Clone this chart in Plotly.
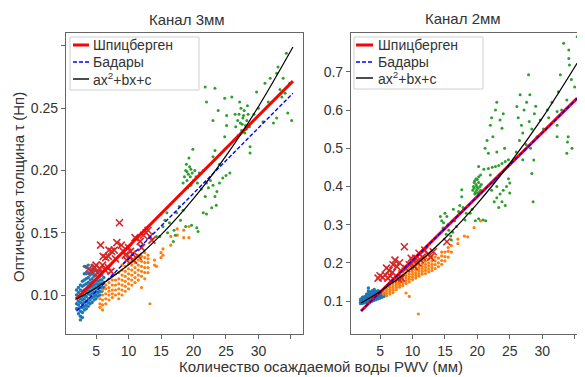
import plotly.graph_objects as go

# The page body has an 8px margin, so the figure is sized to fit the window.
OFF = 8
W, H = 585 - OFF, 377 - OFF

# ================= LEFT PANEL: Канал 3мм =================
L_blue_cols = [
    (2.0, [0.089, 0.093, 0.097, 0.100, 0.104]),
    (2.3, [0.085, 0.089, 0.092, 0.095, 0.098, 0.102, 0.106]),
    (2.6, [0.080, 0.083, 0.087, 0.090, 0.094, 0.097, 0.100, 0.104, 0.108]),
    (2.9, [0.082, 0.086, 0.090, 0.093, 0.096, 0.099, 0.103, 0.107, 0.111]),
    (3.2, [0.088, 0.091, 0.094, 0.097, 0.100, 0.104, 0.108, 0.112, 0.117, 0.123]),
    (3.5, [0.089, 0.092, 0.095, 0.099, 0.102, 0.105, 0.109, 0.113, 0.117, 0.122]),
    (3.8, [0.091, 0.094, 0.097, 0.101, 0.104, 0.107, 0.110, 0.114, 0.118, 0.124]),
    (4.1, [0.093, 0.096, 0.100, 0.103, 0.106, 0.109, 0.112, 0.116, 0.120]),
    (4.4, [0.094, 0.098, 0.101, 0.104, 0.107, 0.110, 0.113, 0.117, 0.121, 0.124]),
    (4.7, [0.096, 0.099, 0.102, 0.105, 0.108, 0.111, 0.115, 0.119]),
    (5.0, [0.097, 0.100, 0.103, 0.106, 0.109, 0.112, 0.116, 0.120]),
    (5.3, [0.099, 0.102, 0.105, 0.108, 0.111, 0.114, 0.118]),
    (5.6, [0.100, 0.103, 0.106, 0.109, 0.112, 0.115, 0.119]),
    (5.9, [0.103, 0.106, 0.109, 0.112, 0.116]),
    (6.2, [0.106, 0.110, 0.114]),
]
L_orange_cols = [
    (5.6, [0.090, 0.093, 0.097]),
    (6.0, [0.088, 0.092, 0.096, 0.100, 0.104]),
    (6.5, [0.093, 0.097, 0.101, 0.105, 0.108]),
    (7.0, [0.096, 0.100, 0.103, 0.106, 0.110, 0.113]),
    (7.5, [0.098, 0.101, 0.104, 0.108, 0.112, 0.116]),
    (8.0, [0.100, 0.104, 0.108, 0.112, 0.117]),
    (8.5, [0.097, 0.101, 0.105, 0.109, 0.113, 0.118]),
    (9.0, [0.100, 0.104, 0.108, 0.112, 0.116, 0.120, 0.124]),
    (9.5, [0.103, 0.107, 0.111, 0.115, 0.119, 0.123]),
    (10.0, [0.105, 0.109, 0.113, 0.117, 0.121, 0.125, 0.128]),
    (10.5, [0.108, 0.112, 0.116, 0.120, 0.124, 0.127]),
    (11.0, [0.110, 0.114, 0.118, 0.122, 0.126, 0.130]),
    (11.5, [0.112, 0.116, 0.120, 0.124, 0.128, 0.132]),
    (12.0, [0.106, 0.115, 0.119, 0.123, 0.127, 0.131]),
    (12.5, [0.113, 0.118, 0.122, 0.126, 0.130, 0.134]),
    (13.0, [0.118, 0.122, 0.126, 0.129, 0.132]),
    (13.3, [0.093]),
    (14.0, [0.124, 0.128]),
    (14.3, [0.123]),
    (15.0, [0.130, 0.134]),
    (15.3, [0.132, 0.137]),
    (16.5, [0.140, 0.147]),
    (17.5, [0.148, 0.153]),
    (18.5, [0.146, 0.152]),
    (19.3, [0.146, 0.155]),
]
L_green = [
    (14.3, 0.147), (14.8, 0.147), (15.3, 0.155), (15.6, 0.160), (15.9, 0.166), (16.3, 0.158),
    (16.9, 0.143), (17.0, 0.152), (17.4, 0.166), (17.8, 0.171), (18.0, 0.160), (18.4, 0.168),
    (18.8, 0.155), (19.7, 0.156), (20.5, 0.154), (20.7, 0.151), (21.5, 0.166), (16.0, 0.150),
    (15.0, 0.165), (17.2, 0.148),
    (18.4, 0.190), (18.6, 0.195), (18.8, 0.200), (19.0, 0.192), (19.2, 0.197), (19.4, 0.203),
    (19.5, 0.195), (19.7, 0.190), (19.8, 0.198), (20.0, 0.192), (20.2, 0.200), (20.4, 0.195),
    (20.6, 0.190), (20.9, 0.198), (19.1, 0.186), (19.6, 0.188), (18.9, 0.205), (19.9, 0.217),
    (19.3, 0.210), (19.0, 0.199), (19.6, 0.201),
    (21.2, 0.185), (21.8, 0.179), (22.0, 0.190), (22.3, 0.186), (22.6, 0.192), (23.0, 0.188),
    (23.3, 0.179), (23.6, 0.183), (24.0, 0.190), (24.5, 0.194), (25.0, 0.196), (25.6, 0.198),
    (22.8, 0.170), (23.5, 0.172), (22.0, 0.165), (21.5, 0.200), (23.0, 0.211), (23.3, 0.216),
    (24.0, 0.205),
    (21.8, 0.267), (23.3, 0.266), (22.0, 0.255), (24.8, 0.258), (25.9, 0.259), (23.8, 0.248),
    (25.1, 0.244), (25.1, 0.236), (24.8, 0.227), (23.0, 0.240),
    (26.5, 0.235), (26.8, 0.240), (27.0, 0.245), (27.2, 0.238), (27.4, 0.232), (27.6, 0.242),
    (27.8, 0.248), (28.0, 0.236), (28.2, 0.240), (28.4, 0.245), (28.6, 0.235), (27.3, 0.250),
    (26.9, 0.228), (27.9, 0.230), (28.3, 0.252), (27.5, 0.237), (28.7, 0.219), (28.7, 0.214),
    (26.4, 0.245), (27.1, 0.255), (27.7, 0.244), (28.1, 0.233),
    (29.7, 0.263), (31.0, 0.270), (31.8, 0.274), (33.0, 0.283), (32.8, 0.278), (33.8, 0.274),
    (34.1, 0.262), (33.6, 0.259), (34.5, 0.246), (35.1, 0.240), (32.8, 0.242), (32.3, 0.238),
    (30.7, 0.239), (30.0, 0.250), (31.5, 0.255), (33.3, 0.265), (34.8, 0.270), (29.3, 0.245),
    (34.3, 0.294),
]
L_red = [
    (3.9, 0.121), (4.3, 0.119), (4.8, 0.122), (5.2, 0.118), (5.6, 0.121), (6.0, 0.124),
    (6.4, 0.120), (6.9, 0.122), (7.3, 0.119), (5.0, 0.124), (5.7, 0.140), (6.1, 0.131),
    (6.5, 0.130), (6.9, 0.131), (7.0, 0.136), (7.4, 0.135), (7.8, 0.136), (8.6, 0.158),
    (8.2, 0.142), (8.9, 0.140), (9.2, 0.135), (10.0, 0.138), (10.3, 0.135), (10.6, 0.133),
    (10.2, 0.130), (9.7, 0.128), (11.0, 0.146), (11.8, 0.143), (12.3, 0.148), (12.7, 0.150),
    (13.0, 0.152), (13.3, 0.147), (13.6, 0.144), (11.5, 0.131), (12.0, 0.138), (8.0, 0.129),
    (9.5, 0.132), (10.8, 0.128),
]
L_spits_x = [2.0, 35.3]
L_spits_y = [0.0970, 0.2717]
L_badary_x = [2.0, 35.3]
L_badary_y = [0.0870, 0.2620]
L_quad_x = [2.0, 5.0, 10.0, 15.0, 20.0, 25.0, 30.0, 35.3]
L_quad_y = [0.0970, 0.1057, 0.1243, 0.1482, 0.1773, 0.2117, 0.2513, 0.2990]

# ================= RIGHT PANEL: Канал 2мм =================
R_blue_cols = [
    (2.0, [0.093, 0.097, 0.101, 0.105]),
    (2.3, [0.094, 0.098, 0.102, 0.106, 0.110]),
    (2.6, [0.095, 0.099, 0.103, 0.107, 0.111]),
    (2.9, [0.096, 0.100, 0.104, 0.108, 0.112, 0.118]),
    (3.2, [0.097, 0.101, 0.105, 0.109, 0.113, 0.120, 0.126, 0.134]),
    (3.5, [0.098, 0.102, 0.106, 0.110, 0.114, 0.119, 0.124]),
    (3.8, [0.100, 0.104, 0.108, 0.112, 0.116, 0.121, 0.127]),
    (4.1, [0.102, 0.106, 0.110, 0.114, 0.118, 0.123, 0.130]),
    (4.4, [0.104, 0.108, 0.112, 0.116, 0.120, 0.125]),
    (4.7, [0.106, 0.110, 0.114, 0.118, 0.122, 0.127]),
    (5.0, [0.108, 0.112, 0.116, 0.120, 0.124]),
    (5.3, [0.110, 0.114, 0.118, 0.122]),
    (5.6, [0.112, 0.116, 0.120]),
]
R_orange_cols = [
    (5.5, [0.118, 0.124, 0.130]),
    (6.0, [0.114, 0.120, 0.126, 0.132, 0.138]),
    (6.5, [0.118, 0.124, 0.130, 0.136, 0.142, 0.148]),
    (7.0, [0.122, 0.128, 0.134, 0.140, 0.146, 0.152]),
    (7.5, [0.130, 0.136, 0.142, 0.148, 0.156, 0.164]),
    (8.0, [0.136, 0.142, 0.148, 0.155, 0.162, 0.170, 0.178]),
    (8.5, [0.140, 0.147, 0.154, 0.161, 0.168, 0.176, 0.186]),
    (9.0, [0.121, 0.146, 0.153, 0.160, 0.167, 0.174, 0.182, 0.192]),
    (9.5, [0.112, 0.150, 0.157, 0.164, 0.171, 0.178, 0.186, 0.196]),
    (10.0, [0.156, 0.163, 0.170, 0.177, 0.184, 0.192, 0.200]),
    (10.5, [0.160, 0.167, 0.174, 0.181, 0.188, 0.196, 0.205]),
    (10.9, [0.066]),
    (11.0, [0.165, 0.172, 0.179, 0.186, 0.193, 0.200, 0.209]),
    (11.5, [0.170, 0.177, 0.184, 0.191, 0.198, 0.206, 0.214]),
    (12.0, [0.172, 0.180, 0.188, 0.196, 0.204, 0.212]),
    (12.5, [0.176, 0.184, 0.192, 0.200, 0.210, 0.220]),
    (13.0, [0.180, 0.188, 0.196, 0.205, 0.215]),
    (13.5, [0.185, 0.195, 0.205, 0.215]),
    (14.0, [0.190, 0.200, 0.212]),
    (14.5, [0.196, 0.206, 0.218, 0.228]),
    (15.0, [0.205, 0.216, 0.228]),
    (15.5, [0.215, 0.230, 0.240]),
    (16.0, [0.228, 0.245]),
    (17.0, [0.250, 0.262]),
    (18.0, [0.270]),
    (18.5, [0.268]),
    (19.5, [0.292]),
    (20.5, [0.310]),
]
R_green = [
    (14.3, 0.321), (14.7, 0.291), (14.8, 0.305), (15.0, 0.330), (15.3, 0.321), (15.5, 0.300),
    (15.6, 0.285), (15.9, 0.270), (16.0, 0.260), (16.2, 0.280), (16.5, 0.310), (16.8, 0.295),
    (17.1, 0.334), (17.3, 0.350), (17.6, 0.373), (17.6, 0.391), (18.1, 0.312), (18.3, 0.330),
    (18.9, 0.330), (19.2, 0.340), (19.7, 0.310), (20.2, 0.315), (20.9, 0.312), (21.3, 0.310),
    (15.2, 0.275), (14.5, 0.310), (16.3, 0.340), (17.8, 0.345),
    (19.3, 0.390), (19.4, 0.400), (19.5, 0.410), (19.6, 0.415), (19.8, 0.420), (20.0, 0.418),
    (20.2, 0.410), (20.4, 0.400), (20.5, 0.390), (20.3, 0.385), (20.0, 0.382), (19.7, 0.385),
    (19.5, 0.395), (19.9, 0.400), (20.1, 0.395), (19.8, 0.405), (20.2, 0.425), (19.6, 0.380),
    (20.6, 0.405), (19.9, 0.390),
    (20.5, 0.430), (20.2, 0.452), (21.0, 0.445), (21.7, 0.447), (22.3, 0.450), (22.8, 0.452),
    (23.3, 0.455), (23.8, 0.460), (24.3, 0.465), (24.8, 0.470), (21.7, 0.487),
    (22.0, 0.430), (22.5, 0.410), (23.0, 0.400), (23.5, 0.380), (23.0, 0.370), (23.8, 0.360),
    (24.0, 0.390), (24.5, 0.400), (25.0, 0.409), (25.0, 0.383), (24.3, 0.350), (23.3, 0.345),
    (22.6, 0.360), (24.8, 0.420), (22.2, 0.390),
    (21.5, 0.520), (22.4, 0.530), (23.5, 0.574), (23.8, 0.552), (22.0, 0.560), (22.8, 0.600),
    (24.2, 0.500), (21.2, 0.500), (23.0, 0.490), (23.0, 0.620), (22.2, 0.580), (24.0, 0.590),
    (26.1, 0.609), (26.3, 0.580), (26.8, 0.560), (27.0, 0.540), (27.2, 0.600), (27.6, 0.620),
    (27.9, 0.692), (28.0, 0.570), (28.4, 0.550), (28.8, 0.590), (29.2, 0.530), (26.5, 0.520),
    (27.5, 0.510), (28.2, 0.500), (28.7, 0.469), (28.4, 0.434), (28.6, 0.360), (26.0, 0.490),
    (27.0, 0.470), (29.0, 0.610), (26.6, 0.640), (28.1, 0.640),
    (30.2, 0.550), (30.8, 0.600), (31.5, 0.620), (32.3, 0.596), (32.3, 0.530), (32.3, 0.560),
    (32.5, 0.648), (32.8, 0.692), (33.3, 0.775), (33.8, 0.626), (33.8, 0.487), (33.9, 0.516),
    (34.0, 0.530), (34.1, 0.757), (34.1, 0.735), (34.2, 0.718), (34.5, 0.680), (35.0, 0.660),
    (35.4, 0.792), (31.0, 0.580), (33.0, 0.600), (34.6, 0.500), (29.7, 0.574), (30.5, 0.548),
]
R_red = [
    (4.7, 0.160), (5.0, 0.166), (5.4, 0.162), (5.8, 0.168), (6.2, 0.160), (6.6, 0.165),
    (6.0, 0.186), (6.4, 0.180), (6.9, 0.175), (7.3, 0.207), (7.0, 0.195), (7.6, 0.190),
    (8.0, 0.200), (8.75, 0.242), (8.3, 0.160), (7.8, 0.158), (9.0, 0.185), (9.5, 0.195),
    (10.1, 0.205), (10.5, 0.212), (10.8, 0.200), (11.2, 0.208), (11.5, 0.215), (11.9, 0.233),
    (12.4, 0.222), (13.2, 0.229), (12.8, 0.215), (15.3, 0.255), (9.8, 0.212), (10.3, 0.190),
    (11.0, 0.225),
]
R_spits_x = [2.07, 35.4]
R_spits_y = [0.0738, 0.6310]
R_badary_x = [2.07, 35.4]
R_badary_y = [0.0740, 0.6300]
R_quad_x = [2.07, 5.0, 10.0, 15.0, 20.0, 25.0, 30.0, 35.4]
R_quad_y = [0.0948, 0.1250, 0.1877, 0.2644, 0.3552, 0.4600, 0.5788, 0.7230]

# tick labels
X_TICKS = [5, 10, 15, 20, 25, 30]
X_TICKTEXT = ["5", "10", "15", "20", "25", "30"]
X_UNLABELLED = [35]
L_Y_TICKS = [0.10, 0.15, 0.20, 0.25]
L_Y_TICKTEXT = ["0.10", "0.15", "0.20", "0.25"]
L_Y_UNLABELLED = [0.30]
R_Y_TICKS = [0.1, 0.2, 0.3, 0.4, 0.5, 0.6, 0.7]
R_Y_TICKTEXT = ["0.1", "0.2", "0.3", "0.4", "0.5", "0.6", "0.7"]

LEGEND_LABELS = ["Шпицберген", "Бадары", "ax<sup>2</sup>+bx+c"]

C_BLUE, C_ORANGE, C_GREEN, C_RED = "#1f77b4", "#ff7f0e", "#2ca02c", "#d62728"


def cols_xy(cols):
    xs, ys = [], []
    for x, yl in cols:
        for y in yl:
            xs.append(x)
            ys.append(y)
    return xs, ys


def pairs_xy(pairs):
    return [p[0] for p in pairs], [p[1] for p in pairs]


fig = go.Figure()


def add_panel(xa, ya, blue, orange, green, red, sp, bd, qd):
    for (xs, ys), col, sz in ((blue, C_BLUE, 3.4), (orange, C_ORANGE, 3.2), (green, C_GREEN, 3)):
        fig.add_trace(go.Scatter(x=xs, y=ys, mode="markers", xaxis=xa, yaxis=ya,
                                 marker=dict(size=sz, color=col, line=dict(width=0)),
                                 showlegend=False, hoverinfo="skip"))
    fig.add_trace(go.Scatter(x=red[0], y=red[1], mode="markers", xaxis=xa, yaxis=ya,
                             marker=dict(size=7, symbol="x-thin", color=C_RED,
                                         line=dict(width=1.6, color=C_RED)),
                             showlegend=False, hoverinfo="skip"))
    fig.add_trace(go.Scatter(x=sp[0], y=sp[1], mode="lines", xaxis=xa, yaxis=ya,
                             line=dict(color="#ff0000", width=3), showlegend=False))
    fig.add_trace(go.Scatter(x=bd[0], y=bd[1], mode="lines", xaxis=xa, yaxis=ya,
                             line=dict(color="#0000ff", width=1.4, dash="4px,2px"), showlegend=False))
    fig.add_trace(go.Scatter(x=qd[0], y=qd[1], mode="lines", xaxis=xa, yaxis=ya,
                             line=dict(color="black", width=1.2, shape="spline"), showlegend=False))


add_panel("x", "y", cols_xy(L_blue_cols), cols_xy(L_orange_cols), pairs_xy(L_green),
          pairs_xy(L_red), (L_spits_x, L_spits_y), (L_badary_x, L_badary_y), (L_quad_x, L_quad_y))
add_panel("x2", "y2", cols_xy(R_blue_cols), cols_xy(R_orange_cols), pairs_xy(R_green),
          pairs_xy(R_red), (R_spits_x, R_spits_y), (R_badary_x, R_badary_y), (R_quad_x, R_quad_y))

AX = dict(showgrid=False, zeroline=False, showline=True, linecolor="#666", linewidth=1.2,
          ticks="outside", ticklen=4, tickwidth=1, tickcolor="#666",
          tickfont=dict(size=14, color="#333"))


def px(x):
    # reference-picture pixel -> paper fraction
    return (x - OFF) / W


def py(y):
    return 1 - (y - OFF) / H


def minor(vals):
    return dict(tickmode="array", tickvals=vals, ticks="outside", ticklen=4,
                tickwidth=1, tickcolor="#666", showgrid=False)


fig.update_layout(
    width=W, height=H, margin=dict(l=0, r=0, t=0, b=0),
    paper_bgcolor="white", plot_bgcolor="white", showlegend=False,
    font=dict(family="Liberation Sans, Arial, sans-serif", size=14, color="#333"),
    xaxis=dict(AX, domain=[px(66), px(303)], range=[0.38, 36.85], anchor="y", mirror=True,
               tickmode="array", tickvals=X_TICKS, ticktext=X_TICKTEXT, minor=minor(X_UNLABELLED)),
    yaxis=dict(AX, domain=[py(334), py(33)], range=[0.0687, 0.3103], anchor="x", mirror=True,
               tickmode="array", tickvals=L_Y_TICKS, ticktext=L_Y_TICKTEXT, minor=minor(L_Y_UNLABELLED)),
    xaxis2=dict(AX, domain=[px(351), 1.0], range=[0.52, 36.6], anchor="y2", mirror=True,
                tickmode="array", tickvals=X_TICKS, ticktext=X_TICKTEXT, minor=minor(X_UNLABELLED)),
    yaxis2=dict(AX, domain=[py(334), py(33)], range=[0.0136, 0.8016], anchor="x2", mirror=False,
                tickmode="array", tickvals=R_Y_TICKS, ticktext=R_Y_TICKTEXT),
)

ann = []
ann.append(dict(text="Канал 3мм", x=px(187), y=py(20), xref="paper", yref="paper",
                showarrow=False, font=dict(size=15, color="#333"), xanchor="center", yanchor="middle"))
ann.append(dict(text="Канал 2мм", x=px(463), y=py(18), xref="paper", yref="paper",
                showarrow=False, font=dict(size=15, color="#333"), xanchor="center", yanchor="middle"))
ann.append(dict(text="Количество осаждаемой воды PWV (мм)", x=px(321), y=py(366), xref="paper",
                yref="paper", showarrow=False, font=dict(size=15, color="#333"),
                xanchor="center", yanchor="middle"))
ann.append(dict(text="Оптическая толщина τ (Нп)", x=px(18), y=py(187), xref="paper", yref="paper",
                showarrow=False, textangle=-90, font=dict(size=15, color="#333"),
                xanchor="center", yanchor="middle"))

shapes = []
legend_styles = [dict(color="#ff0000", width=3), dict(color="#0000ff", width=1.4, dash="4px,2px"),
                 dict(color="black", width=1.4)]
for (bx0, by0, bx1, by1, lx0, lx1, tx, rows) in [
        (70, 37, 199, 90, 73, 89, 91, [45, 62, 79]),
        (354, 37, 483, 89, 356, 373, 376, [45, 62, 78])]:
    shapes.append(dict(type="rect", xref="paper", yref="paper", x0=px(bx0), x1=px(bx1),
                       y0=py(by1), y1=py(by0), line=dict(color="#d0d0d0", width=1),
                       fillcolor="rgba(255,255,255,0.85)", layer="above"))
    for lab, st, ry in zip(LEGEND_LABELS, legend_styles, rows):
        shapes.append(dict(type="line", xref="paper", yref="paper", x0=px(lx0), x1=px(lx1),
                           y0=py(ry), y1=py(ry), line=st, layer="above"))
        ann.append(dict(text=lab, x=px(tx), y=py(ry), xref="paper", yref="paper", showarrow=False,
                        font=dict(size=14, color="#333"), xanchor="left", yanchor="middle"))

fig.update_layout(annotations=ann, shapes=shapes)
fig.write_html("out.html")
